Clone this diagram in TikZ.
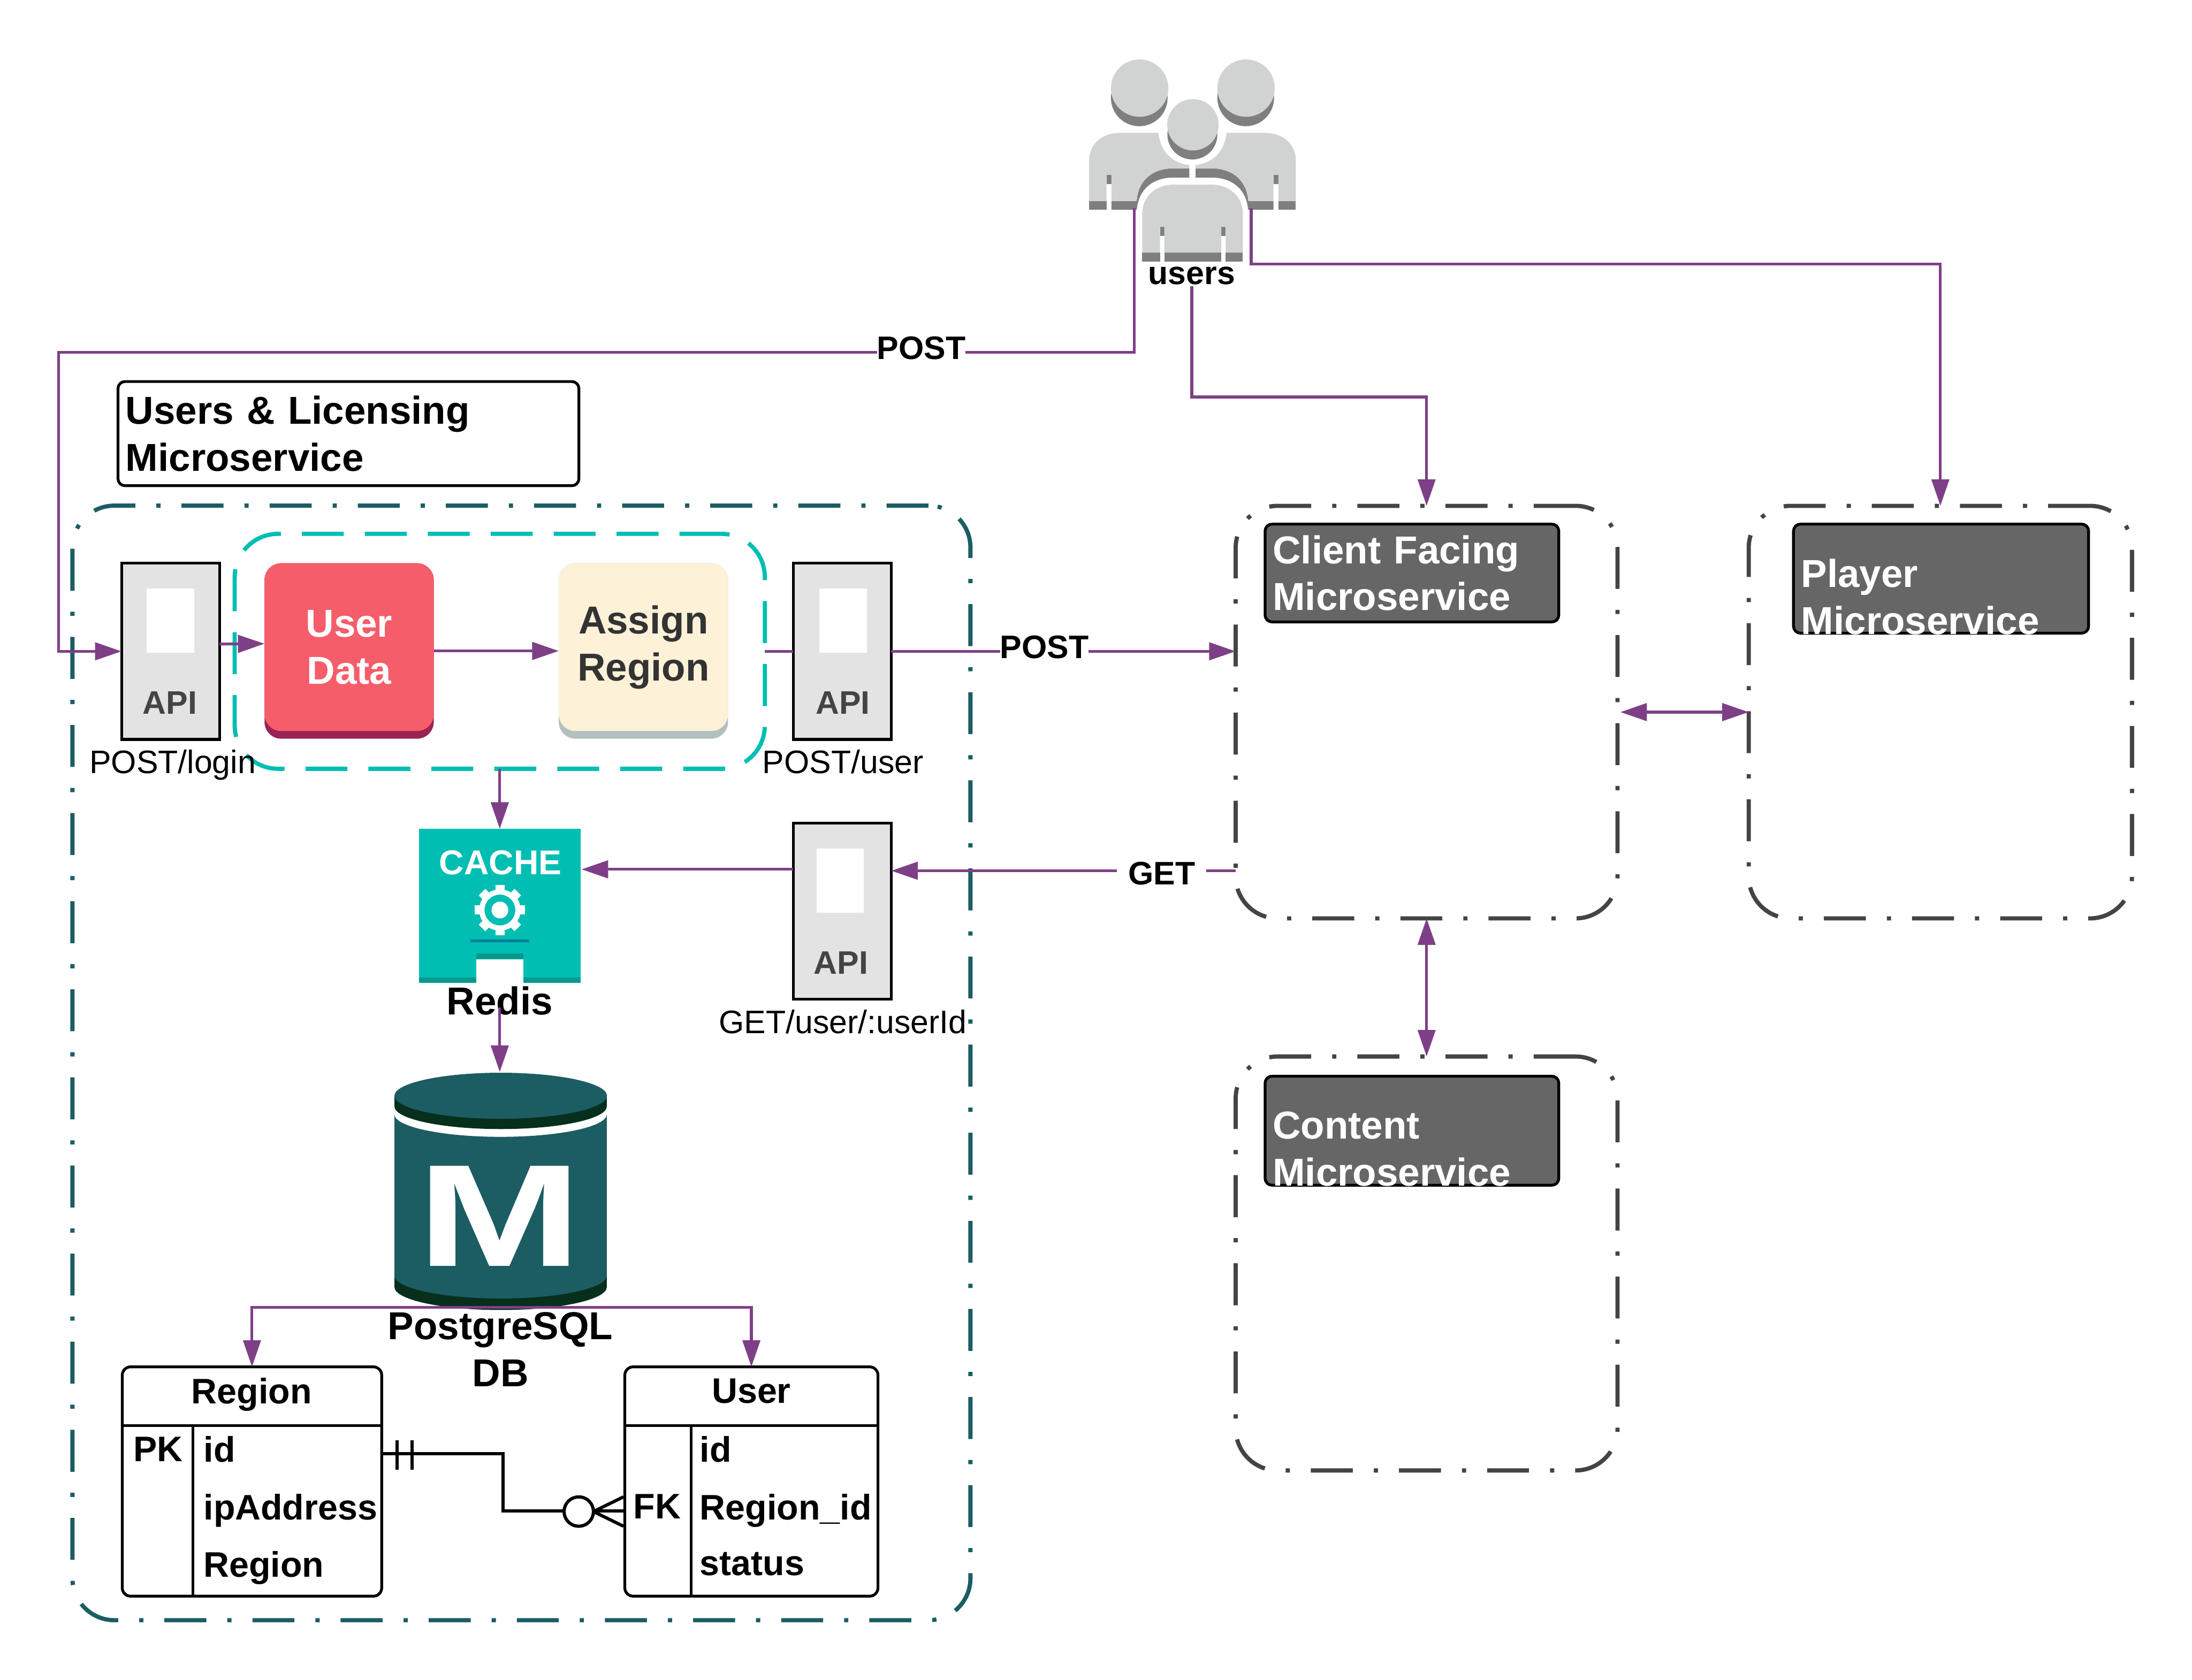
\documentclass[tikz,border=0pt]{standalone}
\usepackage{fontspec}
\usepackage{xcolor}
\setmainfont{Liberation Sans}
\usetikzlibrary{arrows.meta, calc}
\definecolor{cLink}{RGB}{127,63,135}
\definecolor{cFrame}{RGB}{28,93,99}
\definecolor{cGroup}{RGB}{0,190,178}
\definecolor{cGroupDark}{RGB}{0,154,142}
\definecolor{cLine}{RGB}{0,126,155}
\definecolor{cGrey}{RGB}{68,68,68}
\definecolor{cTitle}{RGB}{102,102,102}
\definecolor{cApi}{RGB}{227,227,227}
\definecolor{cUser}{RGB}{245,93,107}
\definecolor{cUserDark}{RGB}{154,35,84}
\definecolor{cAssign}{RGB}{253,241,216}
\definecolor{cAssignDark}{RGB}{178,192,190}
\definecolor{cDbDark}{RGB}{6,47,28}
\definecolor{cIcon}{RGB}{209,211,211}
\definecolor{cIconDark}{RGB}{127,127,127}
\tikzset{
	bigtxt/.style   ={font=\fontsize{7.92}{9.55}\selectfont\bfseries, inner sep=0pt, text depth=0pt, align=center},
	smalltxt/.style ={font=\fontsize{6.62}{8}\selectfont, inner sep=0pt, text depth=0pt, align=center},
	smallbold/.style={font=\fontsize{6.62}{8}\selectfont\bfseries, inner sep=0pt, text depth=0pt, align=center},
	tbltxt/.style   ={font=\fontsize{7.22}{9}\selectfont\bfseries, inner sep=0pt, text depth=0pt},
	link/.style     ={draw=cLink, line width=0.02cm, -{Triangle[length=0.19cm, width=0.125cm]}},
	bilink/.style   ={link, {Triangle[length=0.19cm, width=0.125cm]}-{Triangle[length=0.19cm, width=0.125cm]}},
	plainlink/.style={draw=cLink, line width=0.02cm},
	erlink/.style   ={draw=black, line width=0.023cm},
	ddframe/.style  ={rectangle, rounded corners=0.3cm, line width=0.03cm, outer sep=0pt, dash pattern=on 0.3cm off 0.15cm on 0.03cm off 0.15cm},
	grpframe/.style ={rectangle, draw=cGroup, rounded corners=0.31cm, line width=0.03cm, outer sep=0pt, dash pattern=on 0.3cm off 0.15cm},
	titlebox/.style ={rectangle, draw=black, rounded corners=0.05cm, line width=0.02cm, outer sep=0pt, inner xsep=0.055cm, inner ysep=0pt, align=left,
		font=\fontsize{7.92}{9.55}\selectfont\bfseries},
	apibox/.style   ={rectangle, draw=black, fill=cApi, line width=0.02cm, outer sep=0pt, minimum width=0.7cm, minimum height=1.26cm},
	apiwin/.style   ={rectangle, fill=white, inner sep=0pt, minimum width=0.34cm, minimum height=0.46cm},
	cardbase/.style ={rectangle, rounded corners=0.12cm, outer sep=0pt, minimum width=1.21cm, minimum height=1.255cm},
	cardtop/.style  ={rectangle, rounded corners=0.12cm, outer sep=0pt, minimum width=1.21cm, minimum height=1.2cm, inner sep=0pt, align=center,
		font=\fontsize{7.92}{9.55}\selectfont\bfseries},
	tblbox/.style   ={rectangle, draw=black, rounded corners=0.06cm, line width=0.02cm, outer sep=0pt, minimum height=1.64cm},
	tblline/.style  ={draw=black, line width=0.02cm},
	backbody/.pic={
		\fill[cIconDark] (298,928) -- (440,928) .. controls (450,810) and (530,743) .. (650,743) -- (738,743) -- (738,795) -- (650,795)
			.. controls (530,795) and (452,860) .. (441,977) -- (298,977) -- cycle;
		\fill[cIconDark] (172,928) rectangle (270,977);
		\fill[cIconDark] (270,780) rectangle (298,832);
		\fill[cIcon] (172,928) -- (172,700) .. controls (172,600) and (250,543) .. (345,543) -- (563,543)
			.. controls (575,650) and (640,712) .. (738,725) -- (738,743) -- (650,743) .. controls (530,743) and (450,810) .. (440,928)
			-- (298,928) -- (298,780) -- (270,780) -- (270,928) -- cycle;
	},
}

\begin{document}
\begin{tikzpicture}[x=0.01cm, y=-0.01cm]
	\useasboundingbox (0,0) rectangle (1568,1202);

	% users icon
	\begin{scope}[shift={(757.3,26.3)}, x=0.00126cm, y=-0.00126cm]
		\foreach \hx in {455,1056} {
			\fill[cIconDark] (\hx,345) circle (160);
			\fill[cIcon] (\hx+2,290) circle (162);
		}
		\pic at (0,0) {backbody};
		\pic[xscale=-1] at (1511,0) {backbody};
		\fill[cIconDark] (755,552) circle (141);
		\fill[cIcon] (758,497) circle (145);
		\fill[cIconDark] (472,1219) rectangle (572,1269);
		\fill[cIconDark] (596,1219) rectangle (918,1269);
		\fill[cIconDark] (943,1219) rectangle (1040,1269);
		\fill[cIconDark] (572,1074) rectangle (596,1124);
		\fill[cIconDark] (918,1074) rectangle (943,1124);
		\fill[cIcon] (472,1219) -- (472,1000) .. controls (472,900) and (550,835) .. (650,835) -- (865,835)
			.. controls (960,835) and (1040,900) .. (1040,1000) -- (1040,1219) -- (943,1219) -- (943,1074) -- (918,1074)
			-- (918,1219) -- (596,1219) -- (596,1074) -- (572,1074) -- (572,1219) -- cycle;
	\end{scope}
	\node[smallbold] (usersLbl) at (852.5,197) {users};
	\coordinate (usersL) at (811.5,149);
	\coordinate (usersR) at (895,149);

	% frames
	\node[ddframe, draw=cFrame, minimum width=6.42cm, minimum height=7.97cm] (usersFrame) at (373,760.5) {};
	\node[ddframe, draw=cGrey, minimum width=2.73cm, minimum height=2.95cm] (clientBox) at (1020.5,509.5) {};
	\node[ddframe, draw=cGrey, minimum width=2.74cm, minimum height=2.95cm] (playerBox) at (1388,509.5) {};
	\node[ddframe, draw=cGrey, minimum width=2.73cm, minimum height=2.96cm] (contentBox) at (1020.5,904) {};
	\node[grpframe, minimum width=3.79cm, minimum height=1.68cm] (groupBox) at (357.5,466) {};

	% titles
	\node[titlebox, text width=3.185cm, minimum height=0.745cm] (usersTitle) at (249.25,310.25) {Users \& Licensing\\Microservice};
	\node[titlebox, fill=cTitle, text=white, text width=1.99cm, minimum height=0.7cm] (clientTitle) at (1010,410) {Client Facing\\Microservice};
	\node[titlebox, fill=cTitle, text=white, text width=2.0cm, minimum height=0.78cm, text depth=0.08cm] (playerTitle) at (1388.5,414) {Player\\Microservice};
	\node[titlebox, fill=cTitle, text=white, text width=1.99cm, minimum height=0.78cm, text depth=0.08cm] (contentTitle) at (1010,809) {Content\\Microservice};

	% api boxes
	\node[apibox] (apiLogin) at (122,466) {};
	\node[apiwin] at (122,444) {};
	\node[smallbold, text=cGrey] (apiLoginTxt) at (121.5,503) {API};
	\node[smalltxt] (apiLoginLbl) at (123.5,545) {POST/login};
	\node[apibox] (apiUser) at (602.5,466) {};
	\node[apiwin] at (603,444) {};
	\node[smallbold, text=cGrey] (apiUserTxt) at (603,503) {API};
	\node[smalltxt] (apiUserLbl) at (603,545) {POST/user};
	\node[apibox] (apiGet) at (602.5,652) {};
	\node[apiwin] at (601,630) {};
	\node[smallbold, text=cGrey] (apiGetTxt) at (601.5,689) {API};
	\node[smalltxt] (apiGetLbl) at (603,731) {GET/user/:userId};

	% cards
	\node[cardbase, fill=cUserDark] (userBase) at (249.75,465.75) {};
	\node[cardtop, fill=cUser, text=white] (userCard) at (249.75,463) {User\\Data};
	\node[cardbase, fill=cAssignDark] (assignBase) at (460.25,465.75) {};
	\node[cardtop, fill=cAssign, text=black!80] (assignCard) at (460.25,463) {Assign\\Region};

	% redis
	\fill[cGroup] (299.6,593) rectangle (415.3,703.2);
	\coordinate (cacheN) at (357.5,593);
	\coordinate (cacheE) at (416,622);
	\fill[cGroupDark] (299.6,699.3) rectangle (415.3,703.2);
	\fill[white] (340.8,686.5) rectangle (374.5,703.5);
	\fill[cGroupDark] (340.8,682.2) rectangle (374.5,686.5);
	\fill[cLine] (336.5,672.2) rectangle (378.6,674.2);
	\node[font=\fontsize{7}{8}\selectfont\bfseries, text=white, inner sep=0pt, text depth=0pt] (cacheTxt) at (358,617) {CACHE};
	\begin{scope}[shift={(357.6,651.1)}]
		\foreach \a in {0,45,...,315} {
			\fill[white, rotate=\a] (-3.3,10) rectangle (3.3,18.1);
		}
		\fill[white] (0,0) circle (14.8);
		\fill[cGroup] (0,0) circle (11);
		\fill[white] (0,0) circle (6);
	\end{scope}
	\node[bigtxt] (redisLbl) at (357.5,716) {Redis};
	\coordinate (redisOut) at (357.5,721);

	% database
	\begin{scope}[shift={(263.4,757.4)}, x=0.00126cm, y=-0.00126cm]
		\fill[cDbDark] (148,1225) -- (148,1290) .. controls (148,1362) and (417,1420) .. (748,1420) .. controls (1079,1420) and (1347,1362) .. (1347,1290) -- (1347,1225) -- cycle;
		\fill[cFrame] (148,315) .. controls (148,385) and (417,442) .. (748,442) .. controls (1079,442) and (1347,385) .. (1347,315)
			-- (1347,1225) .. controls (1347,1297) and (1079,1355) .. (748,1355) .. controls (417,1355) and (148,1297) .. (148,1225) -- cycle;
		\fill[cDbDark] (148,210) -- (148,270) .. controls (148,341) and (417,398) .. (748,398) .. controls (1079,398) and (1347,341) .. (1347,270) -- (1347,210) -- cycle;
		\fill[cFrame] (748,210) ellipse [x radius=600, y radius=130];
	\end{scope}
	\coordinate (dbN) at (357.5,767);
	\coordinate (dbS) at (357.5,935.5);
	\node[font=\fontsize{29.6}{30}\selectfont\bfseries, text=white, inner sep=0pt, xscale=1.36] (dbMark) at (357.5,870) {M};
	\node[bigtxt] (dbLbl) at (358,965.5) {PostgreSQL\\DB};

	% tables
	\node[tblbox, minimum width=1.855cm] (regionTable) at (180.25,1060) {};
	\draw[tblline] (87.5,1020) -- (273,1020);
	\draw[tblline] (138,1020) -- (138,1142);
	\node[tbltxt] (regionHead) at (180,995) {Region};
	\node[tbltxt] (regionPk) at (113,1037) {PK};
	\node[tbltxt, anchor=west] (regionId) at (145,1037) {id};
	\node[tbltxt, anchor=west] (regionIp) at (145,1078) {ipAddress};
	\node[tbltxt, anchor=west] (regionName) at (145,1119) {Region};
	\node[tblbox, minimum width=1.81cm] (userTable) at (537.5,1060) {};
	\draw[tblline] (447,1020) -- (628,1020);
	\draw[tblline] (494.5,1020) -- (494.5,1142);
	\node[tbltxt] (userHead) at (537.5,995) {User};
	\node[tbltxt] (userFk) at (470,1078) {FK};
	\node[tbltxt, anchor=west] (userId) at (500,1037) {id};
	\node[tbltxt, anchor=west] (userRegion) at (500,1078) {Region\_id};
	\node[tbltxt, anchor=west] (userStatus) at (500,1119) {status};

	% connectors
	\coordinate (loginTop) at (42,252);
	\coordinate (loginIn) at (42,466);
	\draw[link] (usersL) |- (loginTop) -- (loginIn) -- (apiLogin.west);
	\coordinate (clientTurn) at (1020.5,284);
	\draw[link] ([yshift=-0.01cm]usersLbl.south) |- (clientTurn) -- (clientBox.north);
	\coordinate (playerTurn) at (1388,189);
	\draw[link] (usersR) |- (playerTurn) -- (playerBox.north);
	\draw[link] ([yshift=0.052cm]apiLogin.east) -- ([yshift=0.052cm]userBase.west);
	\draw[link] (userBase.east) -- (assignBase.west);
	\draw[plainlink] (groupBox.east) -- (apiUser.west);
	\draw[link] (apiUser.east) -- (apiUser.east -| clientBox.west);
	\draw[link] (groupBox.south) -- (cacheN);
	\draw[link] (apiGet.west |- cacheE) -- (cacheE);
	\coordinate (getOut) at (884,623);
	\draw[link] (getOut) -- (apiGet.east |- getOut);
	\draw[link] (redisOut) -- (dbN);
	\draw[bilink] ([xshift=0.02cm]clientBox.east) -- (playerBox.west);
	\draw[bilink] (clientBox.south) -- (contentBox.north);
	\draw[link] (dbS) -| (regionTable.north);
	\draw[link] (dbS) -| (userTable.north);

	% er link
	\coordinate (regionRef) at (273,1040);
	\coordinate (erBend) at (360,1081);
	\coordinate (userRef) at (447,1081);
	\draw[erlink] (regionRef) -| (erBend) -- (userRef);
	\draw[erlink] (284,1030.5) -- (284,1051.5);
	\draw[erlink] (294.6,1030.5) -- (294.6,1051.5);
	\node[circle, draw=black, fill=white, line width=0.023cm, minimum size=0.21cm, inner sep=0pt, outer sep=0pt] (erCircle) at (414,1081.5) {};
	\draw[erlink] (erCircle.east) -- (446,1071);
	\draw[erlink] (erCircle.east) -- (446,1092);

	% connector labels
	\node[smallbold, fill=white] (postTop) at (659,249) {POST};
	\node[smallbold, fill=white] (postUser) at (747,463) {POST};
	\node[smallbold, fill=white, inner xsep=0.08cm] (getLbl) at (831,625) {GET};
\end{tikzpicture}
\end{document}
